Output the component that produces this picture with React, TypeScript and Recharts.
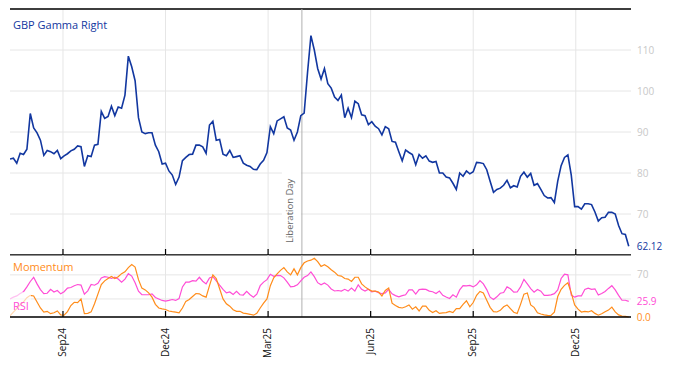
import { LineChart, Line, XAxis, YAxis, CartesianGrid, ReferenceLine } from "recharts";

// one sample every 3 calendar days from the start date
const START_DATE = "2024-07-17";
const END_DATE = "2026-01-19";
const STEP_DAYS = 3;

const tickDates = ["2024-09-02", "2024-12-02", "2025-03-03", "2025-06-02", "2025-09-01", "2025-12-01"];
const tickLabels = ["Sep24", "Dec24", "Mar25", "Jun25", "Sep25", "Dec25"];
const liberationDate = "2025-04-02";

const gammaTicks = [70, 80, 90, 100, 110];
const oscTicks = [30, 70];

const gammaValues = [
  83.4, 83.6, 82.4, 84.8, 84.5, 85.8, 94.5, 91, 89.8, 88,
  84.3, 85.5, 85.2, 84.7, 85.5, 83.5, 84.2, 84.7, 85.4, 85.8,
  86.6, 86.4, 81.6, 84.2, 84, 86.8, 87, 95, 93.3, 93.8,
  96.3, 94, 96.1, 95.8, 99, 108.5, 105.9, 102.5, 93.5, 90,
  89.6, 89.8, 89.8, 86.8, 85.2, 82.2, 82.4, 80.5, 79.5, 77.2,
  79, 83, 83.8, 84.5, 84.6, 86.8, 86.8, 86.4, 84.8, 91.7,
  92.6, 88, 88.2, 84.6, 84.2, 85.5, 83.8, 84, 84.2, 82.4,
  81.9, 81.6, 80.9, 80.8, 82.2, 83.1, 85, 91.3, 89.6, 92.7,
  93.2, 93.7, 91, 90.5, 88, 90, 94, 94.6, 104.5, 113.5,
  110, 105.5, 102.9, 105.5, 101.8, 100.7, 98.5, 97.7, 99, 93.5,
  95.8, 93.5, 97.5, 96.9, 94.2, 94, 91.8, 92.5, 91.4, 90.8,
  89.3, 91.3, 90.8, 87.7, 87.5, 85.2, 83, 85.6, 85, 84.5,
  82, 84.5, 83.6, 84.2, 82.9, 82.6, 82.8, 80, 80, 79,
  78.8, 77.5, 76, 80, 79.2, 80.5, 79.8, 80.3, 82.6, 82.5,
  82.3, 80.8, 78, 75.3, 76, 76.3, 77, 78.2, 76.4, 76.9,
  76.6, 79.2, 80.2, 79, 79.9, 77, 77.4, 76, 74.5, 73.9,
  74, 72.8, 78, 81.8, 83.8, 84.4, 79.5, 71.8, 71.8, 71.2,
  72.5, 72.5, 72.3, 70.5, 68.3, 69.1, 69.2, 70.4, 70.4, 70,
  67.2, 65.2, 65, 62.12,
];

const momentumValues = [
  2, 8, 14, 20, 25, 32, 36, 35, 25, 15,
  8, 9.4, 5.6, 7, 10, 3.5, 3, 9, 19, 24.5,
  24, 30, 5.6, 6, 8.5, 22, 38, 54, 60, 64,
  67.5, 64, 67, 72, 75, 82, 87, 83, 62, 48,
  45, 40, 33, 21, 15, 13.5, 12.5, 10, 8.8, 8,
  7, 15, 26, 29, 34, 39, 38.5, 35, 33, 52,
  70, 64, 47, 30, 22, 18, 12, 9.5, 9.5, 6.5,
  5.6, 4.5, 3, 6, 15, 23, 30, 52, 65, 71.5,
  77.5, 82, 75, 70, 80, 70, 82, 90, 93, 94.4,
  97.5, 92, 84, 87, 83.5, 78.5, 74.5, 69, 68, 64,
  63, 59, 66, 66, 55, 50, 46, 43, 43, 41.5,
  35, 44, 48, 23, 19, 16, 15, 17, 20, 13,
  17, 10, 18, 18, 11, 7.5, 10.5, 6, 7, 7.2,
  9.4, 7.3, 14, 14, 21, 27, 17, 24, 36, 42.5,
  40, 28, 16, 9, 8.3, 11, 17, 20, 14, 8,
  5.8, 21, 38, 40, 20, 16, 7, 5, 3.5, 2.8,
  2.5, 8, 34, 46, 52.5, 57, 40, 20, 13, 8.3,
  9.3, 8.4, 10.5, 6, 3, 5.5, 8.6, 11.5, 16.5, 8.5,
  3.5, 1.7, 1.2, 0,
];

const rsiValues = [
  30, 33, 35, 39, 42, 50, 59, 66, 55, 45.5,
  39, 39.5, 46, 41.5, 44, 38.5, 42, 48, 49, 52,
  54, 53, 38, 43.5, 54, 52.8, 56, 65, 67, 66,
  64, 66, 63, 58, 63, 72, 68, 57, 43, 37,
  37, 37, 38.5, 32.5, 30, 27.5, 26.5, 27.5, 29, 27.5,
  30.6, 50, 58, 58, 60.5, 59.6, 66, 59.4, 55, 65,
  67, 60, 52.8, 46, 40, 41.5, 37.5, 42.5, 37, 36.5,
  42.5, 37, 33, 38, 52, 58, 62, 71, 67.5, 69,
  68.8, 65, 58, 50, 51, 53.5, 60, 66, 68.8, 75,
  67, 57, 53.5, 56.5, 53, 46.5, 43.2, 44, 43, 46,
  43, 48, 43, 53.5, 46, 43, 46, 41.8, 43, 40.5,
  38.7, 40, 46, 38.5, 35.5, 33.6, 35.5, 37, 45, 45,
  38, 45.5, 46.2, 45.8, 43, 42, 39, 43, 36, 33.2,
  30.8, 36.8, 33, 45, 52, 51.7, 52.5, 50, 53.5, 60.5,
  55, 45.5, 33, 29, 33.5, 39.5, 40.6, 50, 47, 41.2,
  41.5, 50, 62.5, 55, 47, 41.2, 45.8, 43, 36, 36,
  36.8, 38.8, 45, 64, 71, 70, 36.5, 33, 35, 35,
  45.8, 47.8, 46, 46.8, 36.5, 39, 42.5, 47.5, 52, 45,
  36, 27.8, 27.8, 25.9,
];

const DAY_MS = 86400000;
const dayOf = (d: string) => Math.round((Date.parse(d) - Date.parse(START_DATE)) / DAY_MS);

const data = gammaValues.map((g, i) => ({
  day: i * STEP_DAYS,
  gamma: g,
  momentum: momentumValues[i],
  rsi: rsiValues[i],
}));

const tickDays = tickDates.map(dayOf);
const xDomain = [0, dayOf(END_DATE)];
const liberationDay = dayOf(liberationDate);

const BLUE = "#1237a0";
const ORANGE = "#ff8c1a";
const PINK = "#ff4dd6";
const GRID = "#e6e6e6";
const TICK_GREY = "#c8c8c8";
const W = 674;
const AXIS_W = 43;

const makeXTick = (showLabel: boolean) => (props: any) => {
  const { x, y, payload } = props;
  const label = tickLabels[tickDays.indexOf(payload.value)];
  const lx = x + 3;
  const ly = y + 11;
  return (
    <g>
      <line x1={x} x2={x} y1={y} y2={y - 6} stroke="#000" strokeWidth={1.2} />
      {showLabel && (
        <text x={lx} y={ly} transform={`rotate(-90 ${lx} ${ly})`} textAnchor="end" fontSize={10} fill="#111">
          {label}
        </text>
      )}
    </g>
  );
};

const yTick = (hide: number[]) => (props: any) => {
  const { x, y, payload } = props;
  if (hide.includes(payload.value)) return <g />;
  return (
    <text x={x} y={y} dy="0.35em" fontSize={10} fill={TICK_GREY}>
      {payload.value}
    </text>
  );
};

const endLabel = (color: string, digits: number) => (props: any) => {
  const { x, y, index, value } = props;
  if (index !== data.length - 1) return <g />;
  return (
    <text x={x + 8} y={y} dy="0.35em" fontSize={10} fill={color}>
      {Number(value).toFixed(digits)}
    </text>
  );
};

const LiberationLabel = (props: any) => {
  const { viewBox } = props;
  const x = viewBox.x - 9;
  const y = viewBox.y + viewBox.height - 12;
  return (
    <g>
      <rect x={x - 11} y={y - 71} width={19} height={77} fill="#fff" />
      <text x={x} y={y} transform={`rotate(-90 ${x} ${y})`} fontSize={9.5} fill="#666">
        Liberation Day
      </text>
    </g>
  );
};

const monthGrid = () =>
  tickDays.map((d) => <ReferenceLine key={`g${d}`} x={d} stroke={GRID} strokeWidth={1} />);

export default function App() {
  return (
    <div
      style={{
        position: "absolute",
        left: 0,
        top: 0,
        width: W,
        height: 366,
        background: "#fff",
        fontFamily: "'Open Sans', sans-serif",
      }}
    >
      <div style={{ position: "absolute", left: 0, top: 0 }}>
        <LineChart width={W} height={256} data={data} margin={{ top: 9, right: 0, bottom: 0, left: 10 }}>
          <CartesianGrid stroke={GRID} vertical={false} />
          {monthGrid()}
          <XAxis
            dataKey="day"
            type="number"
            domain={xDomain}
            ticks={tickDays}
            allowDataOverflow
            height={1}
            tickSize={0}
            tickMargin={0}
            tickLine={false}
            axisLine={{ stroke: "#000", strokeWidth: 1.5 }}
            tick={makeXTick(false)}
          />
          <YAxis
            orientation="right"
            width={AXIS_W}
            domain={[60, 120]}
            ticks={gammaTicks}
            axisLine={false}
            tickLine={false}
            tickMargin={0}
            tick={yTick([])}
          />
          <ReferenceLine y={120} stroke="#000" strokeWidth={1.5} />
          <ReferenceLine x={liberationDay} stroke="#b0b0b0" strokeWidth={1} label={LiberationLabel} />
          <Line
            type="linear"
            dataKey="gamma"
            stroke={BLUE}
            strokeWidth={1.6}
            dot={false}
            isAnimationActive={false}
            label={endLabel(BLUE, 2)}
          />
        </LineChart>
      </div>
      <div style={{ position: "absolute", left: 0, top: 255 }}>
        <LineChart width={W} height={111} data={data} margin={{ top: 0, right: 0, bottom: 0, left: 10 }}>
          <CartesianGrid stroke={GRID} vertical={false} />
          {monthGrid()}
          <XAxis
            dataKey="day"
            type="number"
            domain={xDomain}
            ticks={tickDays}
            allowDataOverflow
            height={49}
            tickSize={0}
            tickMargin={0}
            tickLine={false}
            axisLine={{ stroke: "#000", strokeWidth: 1.5 }}
            tick={makeXTick(true)}
          />
          <YAxis
            orientation="right"
            width={AXIS_W}
            domain={[0, 103]}
            ticks={oscTicks}
            axisLine={false}
            tickLine={false}
            tickMargin={0}
            tick={yTick([30])}
          />
          <ReferenceLine x={liberationDay} stroke="#b0b0b0" strokeWidth={1} />
          <Line
            type="linear"
            dataKey="rsi"
            stroke={PINK}
            strokeWidth={1.2}
            dot={false}
            isAnimationActive={false}
            label={endLabel(PINK, 1)}
          />
          <Line
            type="linear"
            dataKey="momentum"
            stroke={ORANGE}
            strokeWidth={1.2}
            dot={false}
            isAnimationActive={false}
            label={endLabel(ORANGE, 1)}
          />
        </LineChart>
      </div>
      <svg width={W} height={366} style={{ position: "absolute", left: 0, top: 0, pointerEvents: "none" }}>
        <text x={13} y={29} fontSize={11} fill={BLUE}>
          GBP Gamma Right
        </text>
        <text x={13} y={271} fontSize={11} fill={ORANGE}>
          Momentum
        </text>
        <rect x={10} y={292} width={21} height={24} fill="#fff" opacity={0.65} />
        <text x={13} y={310} fontSize={11} fill={PINK}>
          RSI
        </text>
      </svg>
    </div>
  );
}
